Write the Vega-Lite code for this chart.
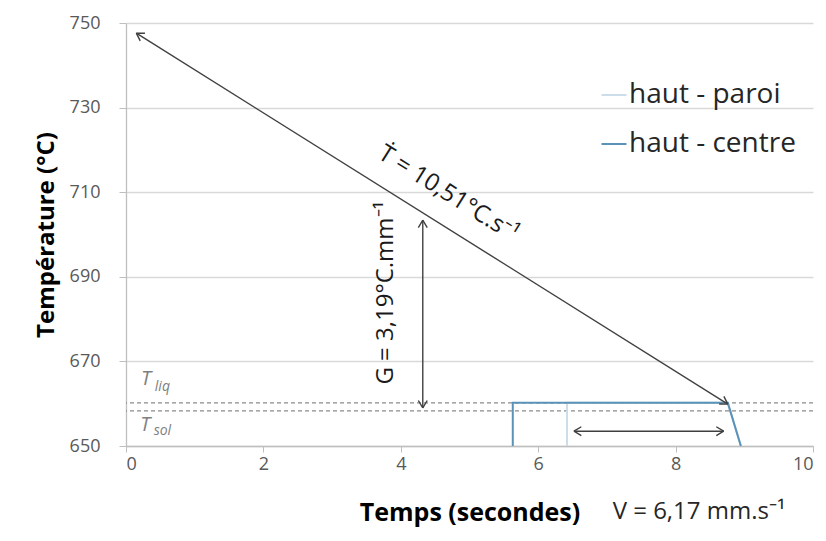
{
  "$schema": "https://vega.github.io/schema/vega-lite/v6.json",
  "width": 687,
  "height": 423,
  "autosize": "none",
  "padding": {"left": 126, "top": 23, "right": 13, "bottom": 95},
  "background": "white",
  "config": {
    "view": {"stroke": null},
    "font": "Open Sans",
    "axis": {"labelFont": "Open Sans", "titleFont": "Open Sans"}
  },
  "datasets": {
    "series": [
      {"t": 6.42, "temp": 650, "serie": "haut - paroi", "i": 1},
      {"t": 6.42, "temp": 660.2, "serie": "haut - paroi", "i": 2},
      {"t": 8.76, "temp": 660.2, "serie": "haut - paroi", "i": 3},
      {"t": 8.95, "temp": 650, "serie": "haut - paroi", "i": 4},
      {"t": 5.63, "temp": 650, "serie": "haut - centre", "i": 1},
      {"t": 5.63, "temp": 660.2, "serie": "haut - centre", "i": 2},
      {"t": 8.76, "temp": 660.2, "serie": "haut - centre", "i": 3},
      {"t": 8.95, "temp": 650, "serie": "haut - centre", "i": 4}
    ],
    "levels": [
      {"name": "Tliq", "temp": 660.2},
      {"name": "Tsol", "temp": 658.3}
    ],
    "arrows": [
      {"name": "cooling", "x1": 0.15, "y1": 747.6, "x2": 8.76, "y2": 659.9},
      {"name": "G", "x1": 4.32, "y1": 703.4, "x2": 4.32, "y2": 659.0},
      {"name": "V", "x1": 6.52, "y1": 653.5, "x2": 8.70, "y2": 653.5}
    ],
    "heads": [
      {"x": 0.15, "y": 747.6, "angle": 212},
      {"x": 8.76, "y": 659.9, "angle": 32},
      {"x": 4.32, "y": 703.4, "angle": 270},
      {"x": 4.32, "y": 659.0, "angle": 90},
      {"x": 6.52, "y": 653.5, "angle": 180},
      {"x": 8.70, "y": 653.5, "angle": 0}
    ],
    "bigLabels": [
      {"x": 4.69, "y": 709.6, "angle": 32, "label": "Ṫ = 10,51°C.s⁻¹"},
      {"x": 3.79, "y": 686.2, "angle": 270, "label": "G = 3,19°C.mm⁻¹"}
    ],
    "tLetters": [
      {"x": 0.29, "y": 665.8, "label": "T"},
      {"x": 0.28, "y": 655.0, "label": "T"}
    ],
    "tSubs": [
      {"x": 0.53, "y": 663.9, "label": "liq"},
      {"x": 0.53, "y": 653.6, "label": "sol"}
    ],
    "vLabel": [
      {"x": 8.34, "y": 650, "label": "V = 6,17 mm.s⁻¹"}
    ]
  },
  "encoding": {
    "x": {
      "type": "quantitative",
      "scale": {"domain": [0, 10], "nice": false, "zero": false}
    },
    "y": {
      "type": "quantitative",
      "scale": {"domain": [650, 750], "nice": false, "zero": false}
    }
  },
  "layer": [
    {
      "data": {"name": "levels"},
      "mark": {"type": "rule", "color": "#8c8c8c", "strokeDash": [4, 3], "strokeWidth": 1.2},
      "encoding": {
        "y": {
          "field": "temp",
          "type": "quantitative",
          "scale": {"domain": [650, 750], "nice": false, "zero": false},
          "axis": {
            "title": "Température (°C)",
            "values": [650, 670, 690, 710, 730, 750],
            "format": "d",
            "grid": true,
            "gridColor": "#d9d9d9",
            "gridWidth": 1.3,
            "domainColor": "#bfbfbf",
            "domainWidth": 1.3,
            "tickColor": "#bfbfbf",
            "tickSize": 7,
            "labelFontSize": 18,
            "labelColor": "#595959",
            "labelPadding": 19,
            "titleFontSize": 24,
            "titleFontWeight": "bold",
            "titleColor": "#000000",
            "titlePadding": 11
          }
        }
      }
    },
    {
      "data": {"name": "series"},
      "mark": {"type": "line", "strokeWidth": 2},
      "encoding": {
        "x": {
          "field": "t",
          "type": "quantitative",
          "scale": {"domain": [0, 10], "nice": false, "zero": false},
          "axis": {
            "title": "Temps (secondes)",
            "values": [0, 2, 4, 6, 8, 10],
            "format": "d",
            "grid": false,
            "domainColor": "#bfbfbf",
            "domainWidth": 1.3,
            "tickColor": "#bfbfbf",
            "tickSize": 6,
            "labelFontSize": 18,
            "labelColor": "#595959",
            "labelPadding": 3,
            "titleFontSize": 25,
            "titleFontWeight": "bold",
            "titleColor": "#000000",
            "titlePadding": 27
          }
        },
        "y": {"field": "temp", "type": "quantitative"},
        "order": {"field": "i", "type": "quantitative"},
        "color": {
          "field": "serie",
          "type": "nominal",
          "sort": ["haut - paroi", "haut - centre"],
          "scale": {"domain": ["haut - paroi", "haut - centre"], "range": ["#cbdde8", "#5b93b8"]},
          "legend": {
            "title": null,
            "orient": "none",
            "legendX": 474,
            "legendY": 58,
            "symbolType": "stroke",
            "symbolSize": 625,
            "symbolStrokeWidth": 2,
            "labelFont": "Open Sans",
            "labelFontSize": 28,
            "labelLimit": 400,
            "labelColor": "#262626",
            "labelOffset": 1,
            "rowPadding": 21
          }
        }
      }
    },
    {
      "data": {"name": "arrows"},
      "mark": {"type": "rule", "color": "#404040", "strokeWidth": 1.4},
      "encoding": {
        "x": {"field": "x1", "type": "quantitative"},
        "y": {"field": "y1", "type": "quantitative"},
        "x2": {"field": "x2"},
        "y2": {"field": "y2"}
      }
    },
    {
      "data": {"name": "heads"},
      "mark": {"type": "point", "shape": "M0,0L-1,-0.6M0,0L-1,0.6", "filled": false, "color": "#404040", "strokeWidth": 1.4, "size": 220, "opacity": 1},
      "encoding": {
        "x": {"field": "x", "type": "quantitative"},
        "y": {"field": "y", "type": "quantitative"},
        "angle": {"field": "angle", "type": "quantitative", "scale": null}
      }
    },
    {
      "data": {"name": "bigLabels"},
      "mark": {"type": "text", "fontSize": 24, "color": "#1a1a1a", "align": "center", "baseline": "middle", "font": "Open Sans"},
      "encoding": {
        "x": {"field": "x", "type": "quantitative"},
        "y": {"field": "y", "type": "quantitative"},
        "angle": {"field": "angle", "type": "quantitative", "scale": null},
        "text": {"field": "label"}
      }
    },
    {
      "data": {"name": "tLetters"},
      "mark": {"type": "text", "fontSize": 20, "fontStyle": "italic", "color": "#808080", "align": "center", "baseline": "middle", "font": "Open Sans"},
      "encoding": {
        "x": {"field": "x", "type": "quantitative"},
        "y": {"field": "y", "type": "quantitative"},
        "text": {"field": "label"}
      }
    },
    {
      "data": {"name": "tSubs"},
      "mark": {"type": "text", "fontSize": 14, "fontStyle": "italic", "color": "#808080", "align": "center", "baseline": "middle", "font": "Open Sans"},
      "encoding": {
        "x": {"field": "x", "type": "quantitative"},
        "y": {"field": "y", "type": "quantitative"},
        "text": {"field": "label"}
      }
    },
    {
      "data": {"name": "vLabel"},
      "mark": {"type": "text", "fontSize": 24, "color": "#262626", "align": "center", "baseline": "middle", "dy": 66, "font": "Open Sans"},
      "encoding": {
        "x": {"field": "x", "type": "quantitative"},
        "y": {"field": "y", "type": "quantitative"},
        "text": {"field": "label"}
      }
    }
  ]
}
